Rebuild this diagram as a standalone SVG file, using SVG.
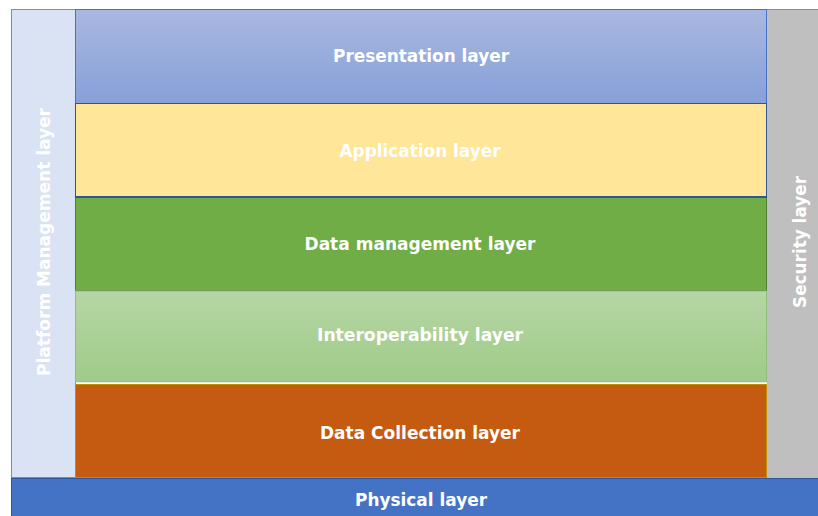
<svg xmlns="http://www.w3.org/2000/svg" width="818" height="516" viewBox="0 0 818 516">
<defs>
<linearGradient id="gPres" x1="0" y1="0" x2="0" y2="1"><stop offset="0" stop-color="#A9B8E0"/><stop offset="1" stop-color="#87A0D8"/></linearGradient>
<linearGradient id="gInter" x1="0" y1="0" x2="0" y2="1"><stop offset="0" stop-color="#B6D6A5"/><stop offset="1" stop-color="#9FCB88"/></linearGradient>
<style>
text{font-family:"DejaVu Sans","Liberation Sans",sans-serif;font-weight:bold;fill:#FFFFFF;font-size:18px;text-anchor:middle;dominant-baseline:central}
</style>
</defs>
<rect width="818" height="516" fill="#FFFFFF"/>
<g id="platform">
<rect x="11.5" y="9.5" width="64" height="468" fill="#DAE3F3" stroke="#6F8FC9"/>
<text transform="translate(43,242) rotate(-90)" textLength="268" lengthAdjust="spacingAndGlyphs">Platform Management layer</text>
</g>
<g id="security">
<rect x="767" y="9" width="51" height="469" fill="#BFBFBF"/>
<line x1="767" y1="9.5" x2="818" y2="9.5" stroke="#6F8FC9"/>
<text transform="translate(799,242) rotate(-90)" textLength="132" lengthAdjust="spacingAndGlyphs">Security layer</text>
</g>
<g id="presentation">
<rect x="75.5" y="9.5" width="691" height="94" fill="url(#gPres)" stroke="#4472C4"/>
<text x="421" y="55" textLength="176" lengthAdjust="spacingAndGlyphs">Presentation layer</text>
</g>
<g id="application">
<rect x="75.5" y="103.5" width="691" height="93" fill="#FFE699" stroke="#2F5597"/>
<text x="420" y="150" textLength="161" lengthAdjust="spacingAndGlyphs">Application layer</text>
</g>
<g id="datamanagement">
<rect x="75.5" y="197.5" width="691" height="93" fill="#70AD47" stroke="#507E32"/>
<line x1="75" y1="197.5" x2="767" y2="197.5" stroke="#2F5597"/>
<text x="420" y="243" textLength="231" lengthAdjust="spacingAndGlyphs">Data management layer</text>
</g>
<g id="interoperability">
<rect x="75.5" y="291" width="691" height="91" fill="url(#gInter)" stroke="#8FBF7A" stroke-width="1"/>
<line x1="76" y1="383" x2="766" y2="383" stroke="#FFFFFF" stroke-width="1.2"/>
<text x="420" y="334" textLength="206" lengthAdjust="spacingAndGlyphs">Interoperability layer</text>
</g>
<g id="datacollection">
<rect x="75.5" y="384.5" width="691" height="93" fill="#C55A11" stroke="#BF9000"/>
<text x="420" y="432" textLength="200" lengthAdjust="spacingAndGlyphs">Data Collection layer</text>
</g>
<g id="physical">
<rect x="11" y="478" width="807" height="38" fill="#4472C4"/>
<line x1="11" y1="478.5" x2="818" y2="478.5" stroke="#2F5597"/>
<line x1="11.5" y1="478" x2="11.5" y2="516" stroke="#2F5597"/>
<text x="421" y="499" textLength="132" lengthAdjust="spacingAndGlyphs">Physical layer</text>
</g>
<g id="connectors"/>
</svg>
